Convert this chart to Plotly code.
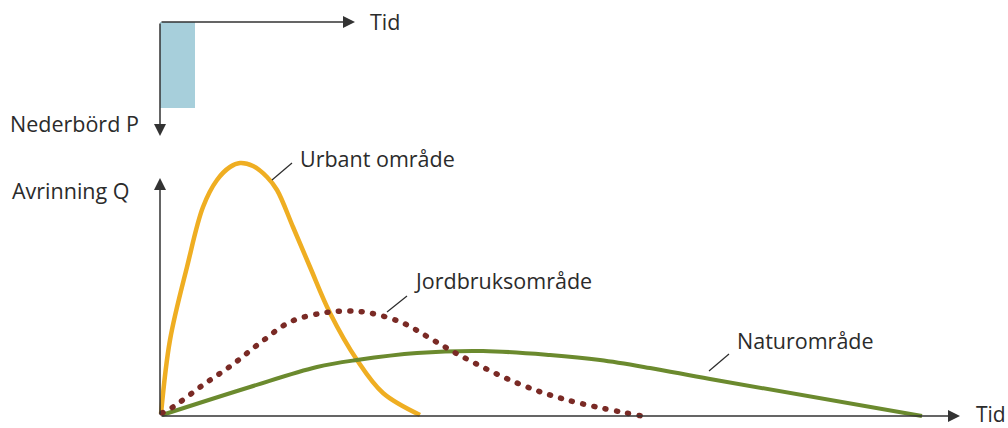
"""Avrinning Q vs nederbörd P — hydrograf för tre typer av område"""
import plotly.graph_objects as go

# ------------------------------------------------------------
# Data (tid från regnets början, avrinning över tidsaxeln)
# ------------------------------------------------------------
urban_t = [1, 10, 27, 43, 57, 70, 80, 93, 107, 117, 133, 150, 170, 197, 223, 260]
urban_q = [2, 76, 149, 209, 236, 249, 253, 250, 239, 226, 189, 149, 103, 56, 23, 1]

jord_t = [2, 13, 43, 72, 100, 130, 163, 187, 210, 243, 273, 303, 357, 407, 482]
jord_q = [3, 9, 31, 51, 73, 94, 103, 105, 103, 93, 76, 59, 33, 16, 0]

natur_t = [2, 90, 157, 197, 257, 323, 390, 440, 490, 550, 762]
natur_q = [1, 29, 49, 56, 63, 65, 61, 56, 48, 37, 0]

# nederbörd: ett kort regn
rain_start = 0
rain_duration = 35
rain_p = 86

INK = "#2b2b2b"
AXIS = "#333333"
FONT = "Open Sans, Arial, sans-serif"

fig = go.Figure()

fig.add_trace(go.Bar(
    x=[rain_start + rain_duration / 2], y=[rain_p], width=[rain_duration],
    marker_color="#a7cfdb", marker_line_width=0, yaxis="y2",
))
fig.add_trace(go.Scatter(
    x=urban_t, y=urban_q, mode="lines", line_shape="spline",
    line=dict(color="#efae22", width=4.5),
))
fig.add_trace(go.Scatter(
    x=natur_t, y=natur_q, mode="lines", line_shape="spline",
    line=dict(color="#6b8a2e", width=4),
))
fig.add_trace(go.Scatter(
    x=jord_t, y=jord_q, mode="lines", line_shape="spline",
    line=dict(color="#7a2a25", width=5.5, dash="1px,10.5px"),
))


def arrow(x, y, ax, ay, yref="y"):
    return dict(x=x, y=y, ax=ax, ay=ay, xref="x", yref=yref, axref="x", ayref=yref,
                text="", showarrow=True, arrowhead=2, arrowsize=1.6, arrowwidth=1.5,
                arrowcolor=AXIS, standoff=0)


def label(text, x, y, yref="y", size=21.5):
    return dict(x=x, y=y, xref="x", yref=yref, text=text, showarrow=False,
                xanchor="left", yanchor="middle",
                font=dict(family=FONT, size=size, color=INK))


annotations = [
    # axlar
    arrow(800, 0, 0, 0),
    arrow(0, 238, 0, 0),
    arrow(195, 0, 0, 0, yref="y2"),
    arrow(0, 114, 0, 0, yref="y2"),
    # texter
    label("Tid", 814, 2, size=21),
    label("Avrinning Q", -150, 226),
    label("Urbant område", 138, 258),
    label("Jordbruksområde", 252, 136),
    label("Naturområde", 575, 76),
    label("Tid", 208, -1, yref="y2"),
    label("Nederbörd P", -152, 101, yref="y2"),
]

leaders = [((112, 236), (132, 253)), ((227, 104), (247, 120)), ((549, 45), (569, 62))]
shapes = [dict(type="line", x0=a[0], y0=a[1], x1=b[0], y1=b[1], xref="x", yref="y",
               line=dict(color=INK, width=1.2)) for a, b in leaders]

fig.update_layout(
    width=1008, height=428,
    margin=dict(l=0, r=0, t=0, b=0),
    paper_bgcolor="white", plot_bgcolor="white",
    showlegend=False,
    xaxis=dict(range=[-160, 848], visible=False, fixedrange=True),
    yaxis=dict(range=[-12, 416], visible=False, fixedrange=True),
    yaxis2=dict(range=[406, -22], overlaying="y", visible=False, fixedrange=True),
    annotations=annotations,
    shapes=shapes,
)

# no page margin, and round dots for the dotted line
post = """
document.body.style.margin = '0';
document.querySelectorAll('.scatterlayer .trace').forEach(function (t, i) {
  if (i === 2) t.querySelectorAll('path.js-line').forEach(function (p) {
    p.style.strokeLinecap = 'round';
  });
});
"""
fig.write_html("out.html", post_script=post, config={"displayModeBar": False})
